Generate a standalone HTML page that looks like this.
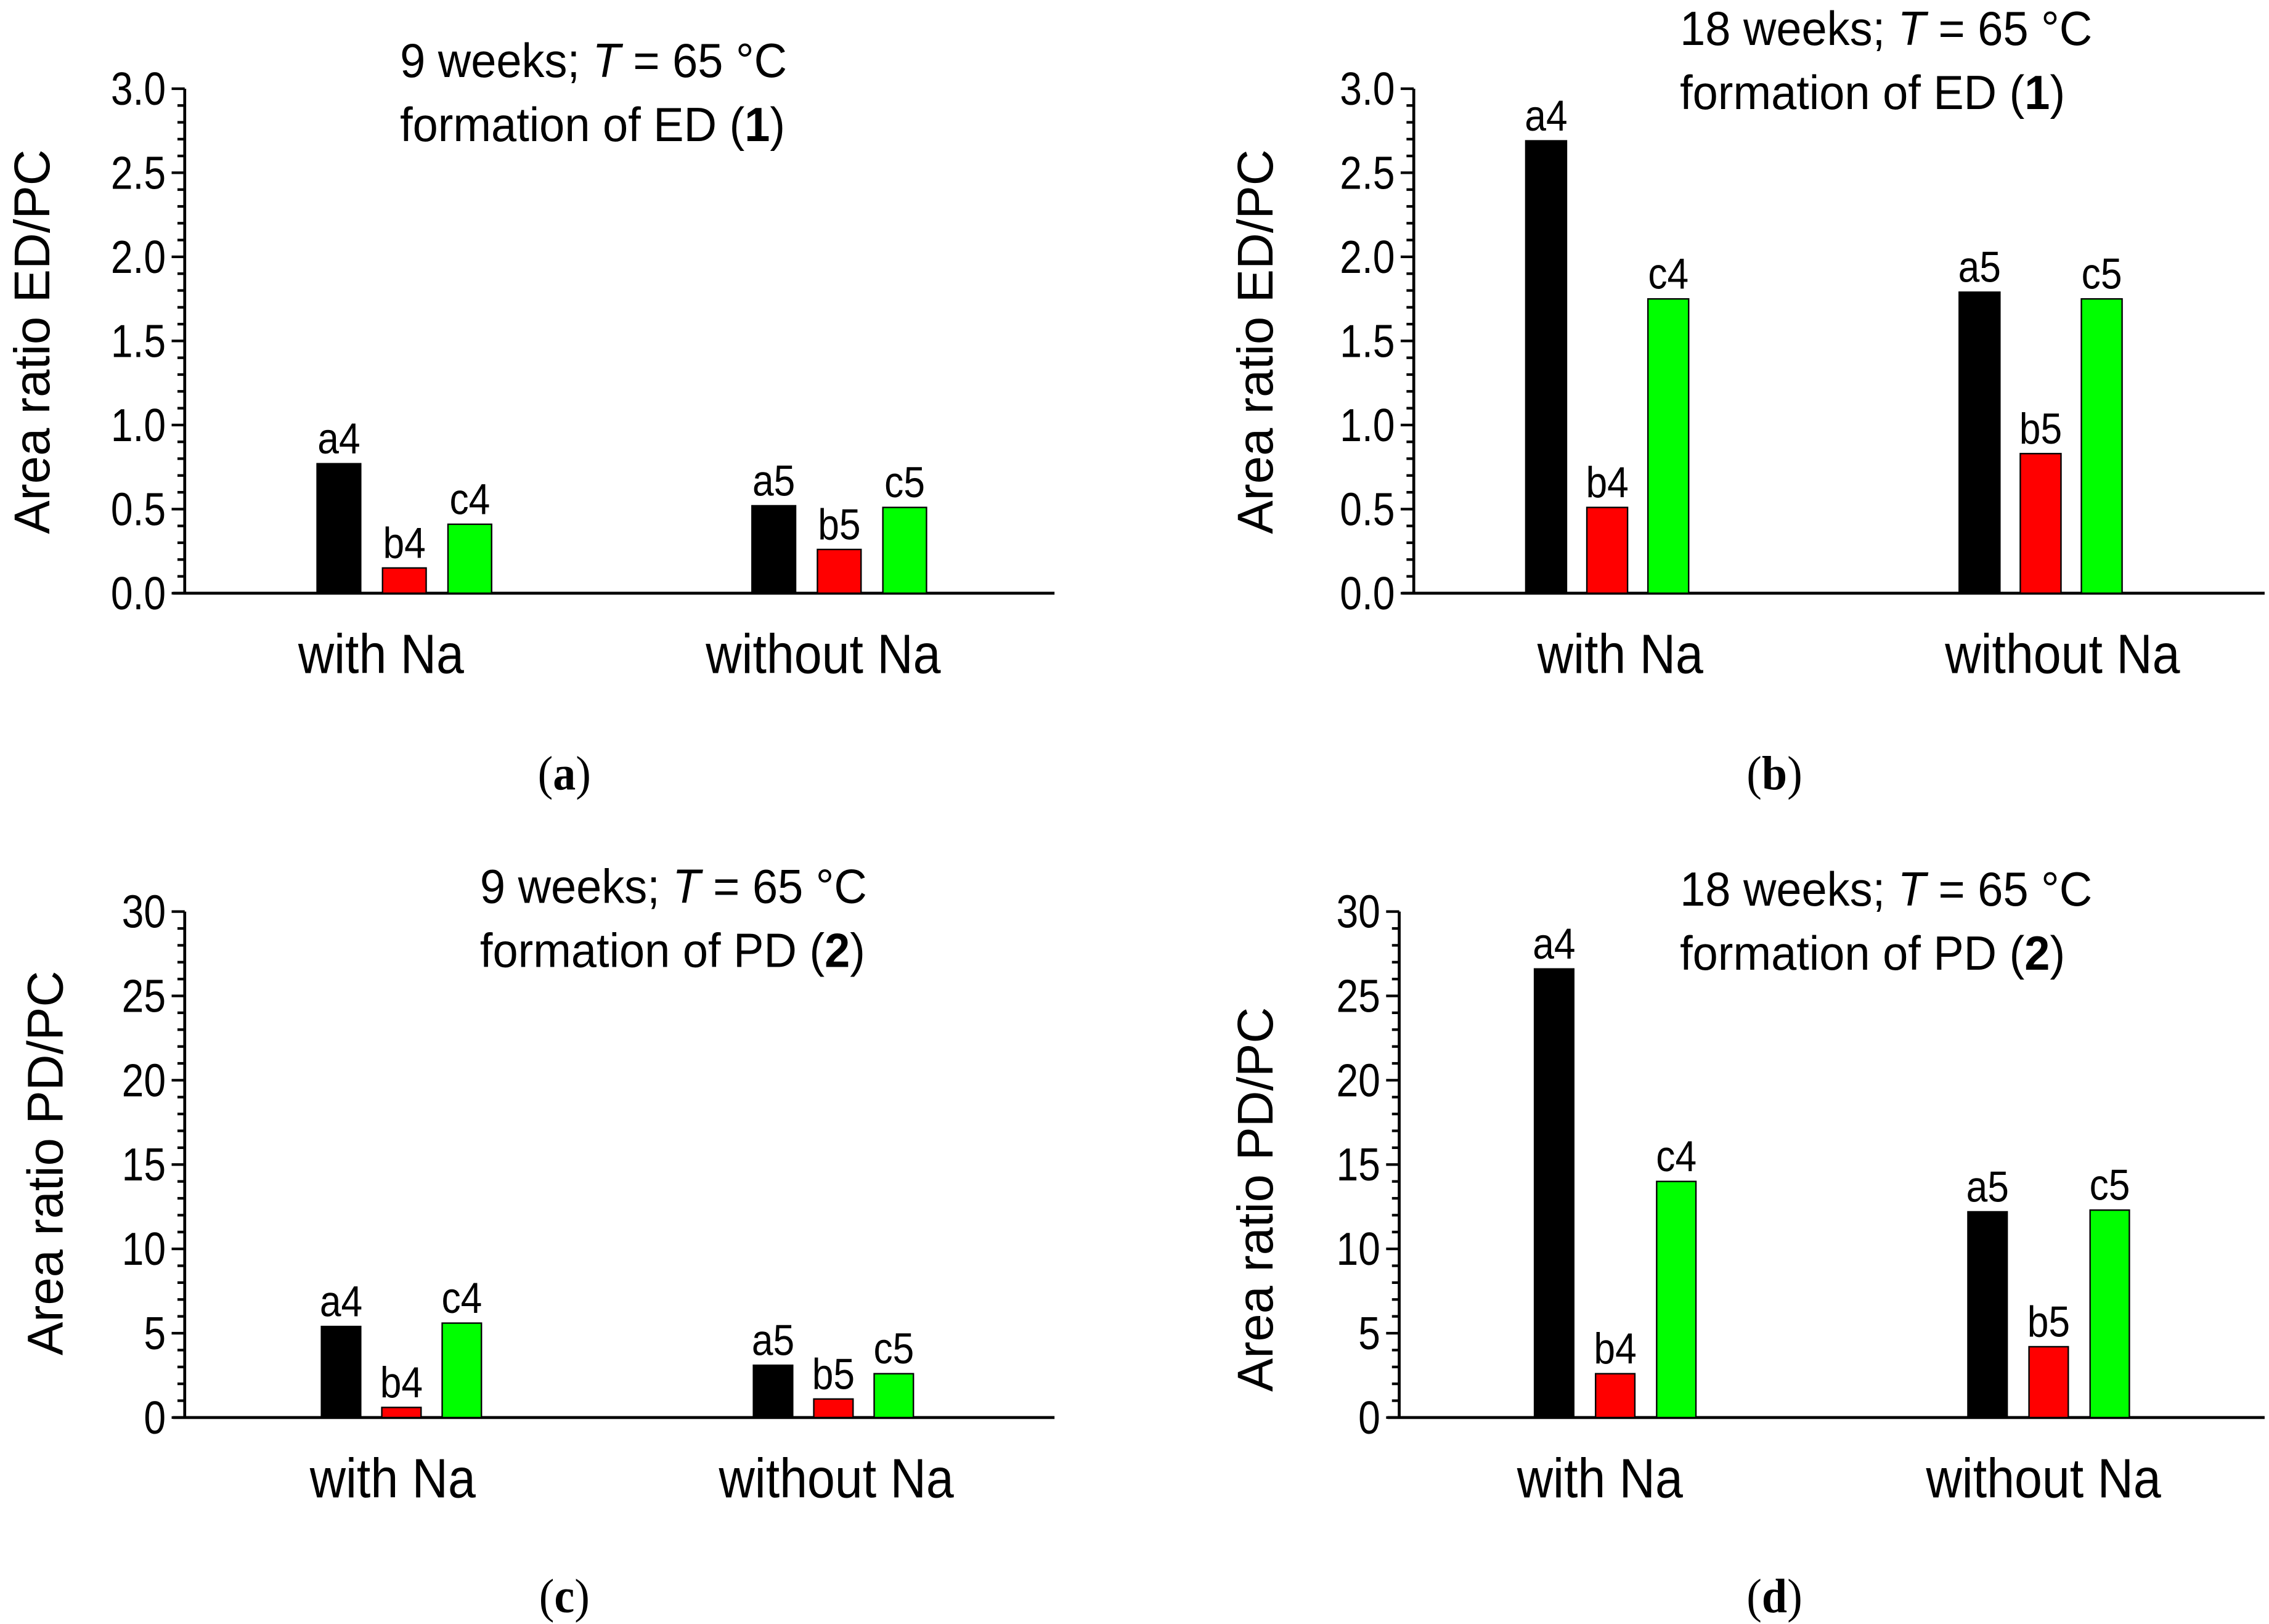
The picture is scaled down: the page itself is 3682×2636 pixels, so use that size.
<!DOCTYPE html>
<html><head><meta charset="utf-8"><style>
html,body{margin:0;padding:0;background:#fff}
svg{display:block}
text{font-family:"Liberation Sans",Arial,sans-serif;fill:#000}
.serif{font-family:"Liberation Serif",serif}
</style></head><body>
<svg id="fig" width="3682" height="2636" viewBox="0 0 1560 1117" preserveAspectRatio="none" xmlns="http://www.w3.org/2000/svg"></svg>
<script>
const categories = ["with Na", "without Na"];
const barLabels = [["a4","b4","c4"],["a5","b5","c5"]];
const seriesColors = ["#000000","#ff0000","#00ff00"];
const valuesA = [[0.77,0.15,0.41],[0.52,0.26,0.51]];
const valuesB = [[2.69,0.51,1.75],[1.79,0.83,1.75]];
const valuesC = [[5.4,0.6,5.6],[3.1,1.1,2.6]];
const valuesD = [[26.6,2.6,14.0],[12.2,4.2,12.3]];
const ticksED = ["0.0","0.5","1.0","1.5","2.0","2.5","3.0"];
const ticksPD = ["0","5","10","15","20","25","30"];

const NS = "http://www.w3.org/2000/svg";
const svg = document.getElementById('fig');
function mk(tag, attrs, parent){
  const e = document.createElementNS(NS, tag);
  for (const k in attrs) e.setAttribute(k, attrs[k]);
  (parent||svg).appendChild(e);
  return e;
}
function txt(parent, x, y, size, sx, anchor, cls){
  const a = {x:0, y:0, 'font-size':size, 'text-anchor':anchor, transform:`translate(${x},${y}) scale(${sx},1)`};
  if (cls) a['class'] = cls;
  return mk('text', a, parent);
}

function panel(p){
  const g = mk('g', {});
  
  
  const yMax = p.yMax;
  const y = v => p.y0 - (v / yMax) * (p.y0 - p.yTop);
  const ya = mk('line', {x1:p.ax, y1:p.yTop, x2:p.ax, y2:p.y0, stroke:'#000','stroke-width':2}, g);
  
  
  const xa = mk('line', {x1:p.ax-8, y1:p.y0, x2:p.xEnd, y2:p.y0, stroke:'#000','stroke-width':2}, g);
  
  
  const n = p.ticks.length - 1;
  for (let i = 0; i <= n*5; i++){
    const v = yMax * i / (n*5);
    const major = i % 5 === 0;
    mk('line', {x1:p.ax-(major?9:5), y1:y(v), x2:p.ax, y2:y(v), stroke:'#000','stroke-width':1.8}, g);
  }
  p.ticks.forEach((t,i)=>{
    const tl = txt(g, p.ax-13, y(yMax*i/n)+11, 32, 0.85, 'end');
    tl.textContent = t;
    
    
  });
  const yt = mk('text', {x:0, y:0, 'font-size':34.5, 'text-anchor':'middle', transform:`translate(${p.ytx},${p.yty}) rotate(-90)`}, g);
  yt.textContent = p.ytitle;
  
  
  p.values.forEach((grp,gi)=>{
    grp.forEach((v,si)=>{
      const x = p.barX[gi] + si * p.step;
      const r = mk('rect', {x:x, y:y(v), width:p.bw, height:p.y0-y(v), fill:seriesColors[si], stroke:'#000','stroke-width':1}, g);
      
      
      const bl = txt(g, x+p.bw/2, y(v)-7, 30, 0.88, 'middle');
      bl.textContent = barLabels[gi][si];
      
      
    });
    const cl = txt(g, p.catX[gi], p.y0+55, 38, 0.9, 'middle');
    cl.textContent = categories[gi];
    
    
  });
  const t1 = txt(g, p.tx, p.ty, 33, 0.95, 'start');
  t1.innerHTML = p.weeks + ' weeks; <tspan font-style="italic">T</tspan> = 65 °C';
  
  
  const t2 = txt(g, p.tx, p.ty+44, 33, 0.95, 'start');
  t2.innerHTML = 'formation of ' + p.prod + ' (<tspan font-weight="bold">' + p.num + '</tspan>)';
  
  
  const pl = txt(g, p.lx, p.ly, 33, 0.95, 'middle', 'serif');
  pl.innerHTML = '(<tspan font-weight="bold">' + p.id + '</tspan>)';
  
  
}

panel({id:'a', yMax:3, ticks:ticksED, values:valuesA, ax:127, yTop:61, y0:408, xEnd:725,
  barX:[218,517], step:45, bw:30, catX:[262,566], ytitle:'Area ratio ED/PC', ytx:34, yty:235,
  tx:275, ty:53, weeks:9, prod:'ED', num:'1', lx:388, ly:543});
panel({id:'b', yMax:3, ticks:ticksED, values:valuesB, ax:972, yTop:61, y0:408, xEnd:1557,
  barX:[1049,1347], step:42, bw:28, catX:[1114,1418], ytitle:'Area ratio ED/PC', ytx:875, yty:235,
  tx:1155, ty:31, weeks:18, prod:'ED', num:'1', lx:1220, ly:543});
panel({id:'c', yMax:30, ticks:ticksPD, values:valuesC, ax:127, yTop:627, y0:975, xEnd:725,
  barX:[221,518], step:41.5, bw:27, catX:[270,575], ytitle:'Area ratio PD/PC', ytx:43, yty:800,
  tx:330, ty:621, weeks:9, prod:'PD', num:'2', lx:388, ly:1109});
panel({id:'d', yMax:30, ticks:ticksPD, values:valuesD, ax:962, yTop:627, y0:975, xEnd:1557,
  barX:[1055,1353], step:42, bw:27, catX:[1100,1405], ytitle:'Area ratio PD/PC', ytx:875, yty:825,
  tx:1155, ty:623, weeks:18, prod:'PD', num:'2', lx:1220, ly:1109});
</script>
</body></html>
